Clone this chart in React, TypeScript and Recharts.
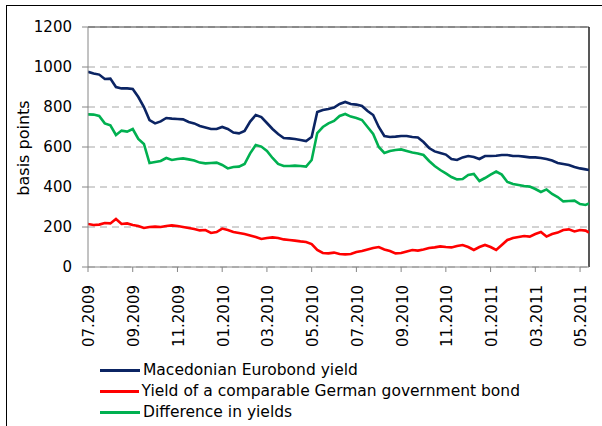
import React from 'react';
import {
  LineChart,
  Line,
  XAxis,
  YAxis,
  CartesianGrid,
  ReferenceLine,
  Legend
} from 'recharts';

// months since 07.2009 (0.25 month steps, last point mid May 2011)
const months = [
  0, 0.25, 0.5, 0.75, 1, 1.25, 1.5, 1.75, 2, 2.25,
  2.5, 2.75, 3, 3.25, 3.5, 3.75, 4, 4.25, 4.5, 4.75,
  5, 5.25, 5.5, 5.75, 6, 6.25, 6.5, 6.75, 7, 7.25,
  7.5, 7.75, 8, 8.25, 8.5, 8.75, 9, 9.25, 9.5, 9.75,
  10, 10.25, 10.5, 10.75, 11, 11.25, 11.5, 11.75, 12, 12.25,
  12.5, 12.75, 13, 13.25, 13.5, 13.75, 14, 14.25, 14.5, 14.75,
  15, 15.25, 15.5, 15.75, 16, 16.25, 16.5, 16.75, 17, 17.25,
  17.5, 17.75, 18, 18.25, 18.5, 18.75, 19, 19.25, 19.5, 19.75,
  20, 20.25, 20.5, 20.75, 21, 21.25, 21.5, 21.75, 22, 22.25,
  22.4
];

const eurobondYield = [
  976, 968, 962, 940, 942, 900, 893, 893, 890, 850,
  800, 735, 718, 728, 745, 742, 740, 738, 725, 718,
  705, 698, 690, 690, 700, 690, 672, 668, 680, 727,
  760, 750, 720, 690, 665, 645, 643, 640, 635, 630,
  650, 775, 785, 790, 797, 815, 825, 815, 812, 805,
  780, 760, 700, 655, 650, 652, 655, 655, 650, 648,
  625, 595, 578, 570, 562, 540, 535, 548, 555, 550,
  540, 555, 555, 556, 560, 560, 555, 555, 552, 548,
  548, 545, 540, 532, 520, 515, 510, 500, 493, 488,
  485
];

const germanYield = [
  215, 210, 212, 220, 218, 240, 215, 218, 210, 205,
  195, 200, 202, 200, 205, 208, 205, 200, 195, 190,
  183, 185, 170, 175, 192, 185, 175, 170, 165, 158,
  150, 140, 145, 148, 145, 138, 135, 132, 128, 125,
  115, 85, 70, 68, 72, 65, 63, 65, 75, 80,
  88, 95, 100, 88, 80, 68, 70, 78, 85, 82,
  88, 95, 98, 103, 100, 98, 105, 110, 100, 85,
  100, 110, 100, 85, 110, 135, 145, 150, 155, 152,
  165, 175, 152, 165, 172, 185, 188, 178, 185, 182,
  172
];

const yieldDifference = [
  763, 762, 755, 718, 708, 660, 682, 677, 690, 640,
  615, 520, 525, 530, 545, 535, 540, 543, 538, 532,
  522, 518, 520, 522, 510, 493, 500, 502, 515, 568,
  610, 602, 580, 545, 515, 505, 505, 507, 505, 502,
  535, 670, 700, 718, 730, 755, 765, 752, 745, 735,
  700, 665, 600, 570, 580, 585, 588, 580, 572, 568,
  560, 530, 505, 485, 468, 450, 438, 440, 460, 465,
  430, 445, 462, 477, 462, 425, 415, 410, 405, 402,
  390, 375, 388, 365, 350, 328, 330, 332, 315, 310,
  318
];

const monthTicks = [0, 2, 4, 6, 8, 10, 12, 14, 16, 18, 20, 22];
const monthLabels = [
  '07.2009', '09.2009', '11.2009', '01.2010', '03.2010', '05.2010',
  '07.2010', '09.2010', '11.2010', '01.2011', '03.2011', '05.2011'
];
const valueTicks = [0, 200, 400, 600, 800, 1000, 1200];

const series = [
  { key: 'eurobond', name: 'Macedonian Eurobond yield', color: '#0B2463' },
  { key: 'german', name: 'Yield of a comparable German government bond', color: '#FF0000' },
  { key: 'diff', name: 'Difference in yields', color: '#00B050' }
];

const data = months.map((t, i) => ({
  t,
  eurobond: eurobondYield[i],
  german: germanYield[i],
  diff: yieldDifference[i]
}));

const FONT = '"DejaVu Sans", Verdana, sans-serif';

const MonthTick = ({ x, y, payload }: any) => {
  const idx = monthTicks.indexOf(payload.value);
  return (
    <g transform={`translate(${x + 1},${y})`}>
      <text
        transform="rotate(-90)"
        textAnchor="end"
        dy="0.36em"
        fill="#000"
        fontSize={15}
        fontFamily={FONT}
      >
        {monthLabels[idx]}
      </text>
    </g>
  );
};

const LegendBox = () => (
  <div style={{ fontFamily: FONT, fontSize: 15.5, color: '#000' }}>
    {series.map(s => (
      <div key={s.key} style={{ display: 'flex', alignItems: 'center', height: 21 }}>
        <svg width={40} height={21} style={{ display: 'block' }}>
          <line x1={0} x2={40} y1={10.5} y2={10.5} stroke={s.color} strokeWidth={3} />
        </svg>
        <span style={{ marginLeft: 3, whiteSpace: 'nowrap', lineHeight: '21px' }}>{s.name}</span>
      </div>
    ))}
  </div>
);

const App: React.FC = () => {
  return (
    <div
      style={{
        position: 'fixed',
        left: 0,
        top: 0,
        width: 602,
        height: 426,
        overflow: 'hidden',
        background: '#fff'
      }}
    >
      {/* frame of the original figure, cut off on the right and bottom */}
      <div
        style={{
          position: 'absolute',
          left: 6,
          top: 5,
          width: 596,
          height: 421,
          borderLeft: '1px solid #000',
          borderTop: '1px solid #000',
          boxSizing: 'border-box'
        }}
      />
      <div style={{ position: 'absolute', left: 0, top: 0 }}>
        <LineChart
          width={602}
          height={426}
          data={data}
          margin={{ top: 27, right: 13, left: 0, bottom: 0 }}
        >
          <CartesianGrid
            vertical={false}
            stroke="#A6A6A6"
            strokeDasharray="7 5"
            strokeWidth={1}
          />
          <XAxis
            dataKey="t"
            type="number"
            domain={[0, 22.4]}
            ticks={monthTicks}
            interval={0}
            height={159}
            tick={<MonthTick />}
            tickSize={5}
            tickMargin={13}
            stroke="#868686"
            allowDataOverflow
          />
          <YAxis
            domain={[0, 1200]}
            ticks={valueTicks}
            width={88}
            tickSize={6}
            tickMargin={10}
            stroke="#868686"
            tick={{ fill: '#000', fontSize: 15, fontFamily: FONT }}
            label={{
              content: () => (
                <text
                  x={23.5}
                  y={148}
                  transform="rotate(-90 23.5 148)"
                  textAnchor="middle"
                  dominantBaseline="central"
                  fontSize={16}
                  fontFamily={FONT}
                  fill="#000"
                >
                  basis points
                </text>
              )
            }}
          />
          <ReferenceLine y={1200} stroke="#404040" strokeWidth={1} />
          <ReferenceLine x={22.4} stroke="#202020" strokeWidth={1.5} />
          <Legend
            layout="horizontal"
            verticalAlign="middle"
            align="center"
            content={<LegendBox />}
            wrapperStyle={{ left: 100, top: 360, width: 420, height: 64 }}
          />
          {series.map(s => (
            <Line
              key={s.key}
              type="linear"
              dataKey={s.key}
              name={s.name}
              stroke={s.color}
              strokeWidth={2.6}
              dot={false}
              isAnimationActive={false}
            />
          ))}
        </LineChart>
      </div>
    </div>
  );
};

export default App;
